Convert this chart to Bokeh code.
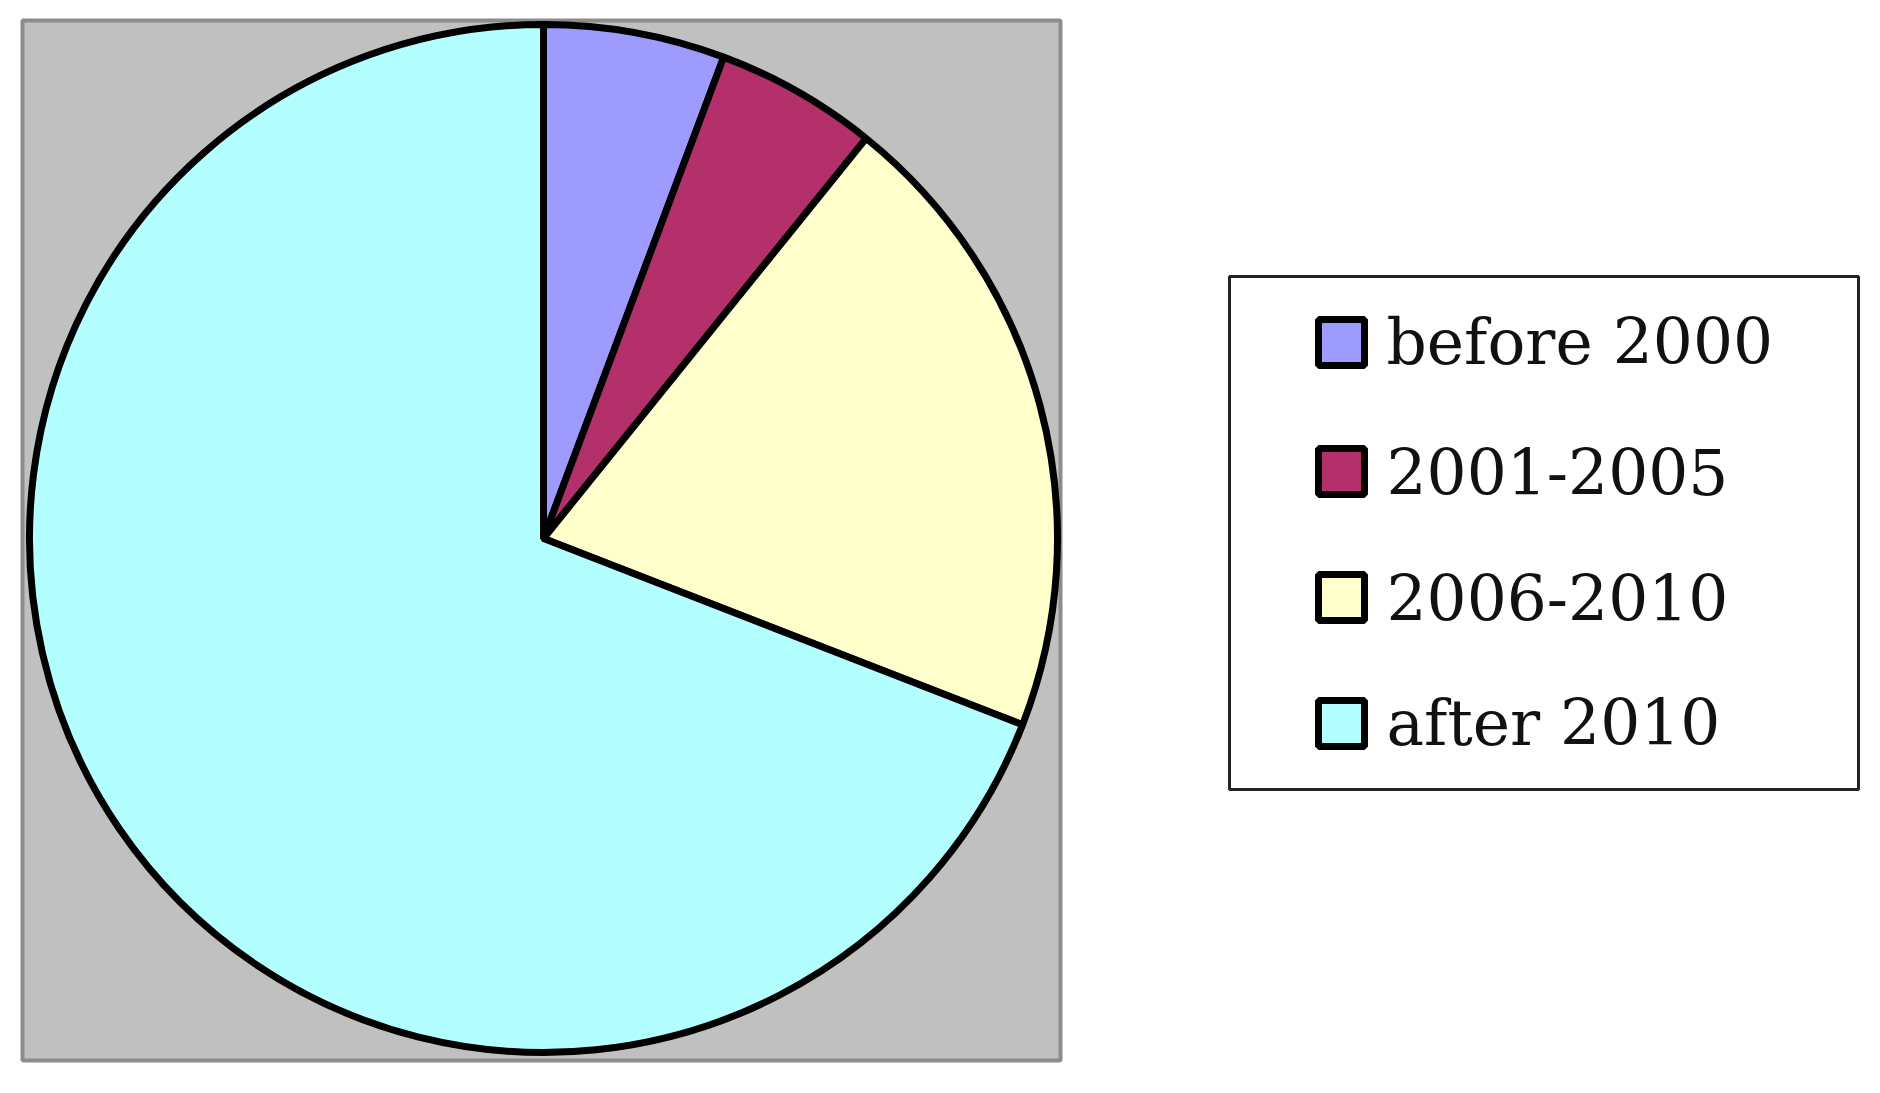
import numpy as np
from bokeh.plotting import figure
from bokeh.models import Range1d, ColumnDataSource
from bokeh.core.properties import value
from bokeh.embed import file_html
from bokeh.resources import INLINE

# ---- data ----
categories = ["before 2000", "2001-2005", "2006-2010", "after 2010"]
shares = [5.7, 5.1, 20.1, 69.1]
colors = ["#9E9BFF", "#B3306A", "#FFFFCC", "#B3FFFF"]

W, H = 1864, 1077
p = figure(width=W, height=H, output_backend="svg", toolbar_location=None,
           x_range=Range1d(0, W), y_range=Range1d(0, H),
           min_border=0, background_fill_color="white", border_fill_color="white")
p.axis.visible = False
p.grid.visible = False
p.outline_line_color = None

# plot area (gray box)
p.quad(left=[22], right=[1060], bottom=[17], top=[1057],
       fill_color="#C0C0C0", line_color="#8C8C8C", line_width=4)

# pie wedges, clockwise from 12 o'clock
vals = np.array(shares, dtype=float)
frac = vals / vals.sum()
cum = np.concatenate([[0], np.cumsum(frac)])
start = np.pi / 2 - cum[:-1] * 2 * np.pi
end = np.pi / 2 - cum[1:] * 2 * np.pi
src = ColumnDataSource(dict(start=start, end=end, color=colors, cat=categories))
p.wedge(x=543, y=539, radius=514, start_angle="start", end_angle="end",
        direction="clock", fill_color="color", line_color="black", line_width=7,
        source=src)

# legend (drawn manually to match the box geometry)
p.quad(left=[1229], right=[1858], bottom=[288], top=[801],
       fill_color="white", line_color="#222222", line_width=3)
rows_y = [1077 - yy for yy in (342, 471, 597, 723)]
lsrc = ColumnDataSource(dict(y=rows_y, color=colors, cat=categories))
p.rect(x=1341, y="y", width=46, height=46, fill_color="color",
       line_color="black", line_width=7, source=lsrc)
p.text(x=1386, y="y", text="cat", source=lsrc, text_font=value("DejaVu Serif"),
       text_font_size="63px", text_baseline="middle", text_align="left",
       text_color="#111111")

open("out.html", "w").write(file_html(p, INLINE))
